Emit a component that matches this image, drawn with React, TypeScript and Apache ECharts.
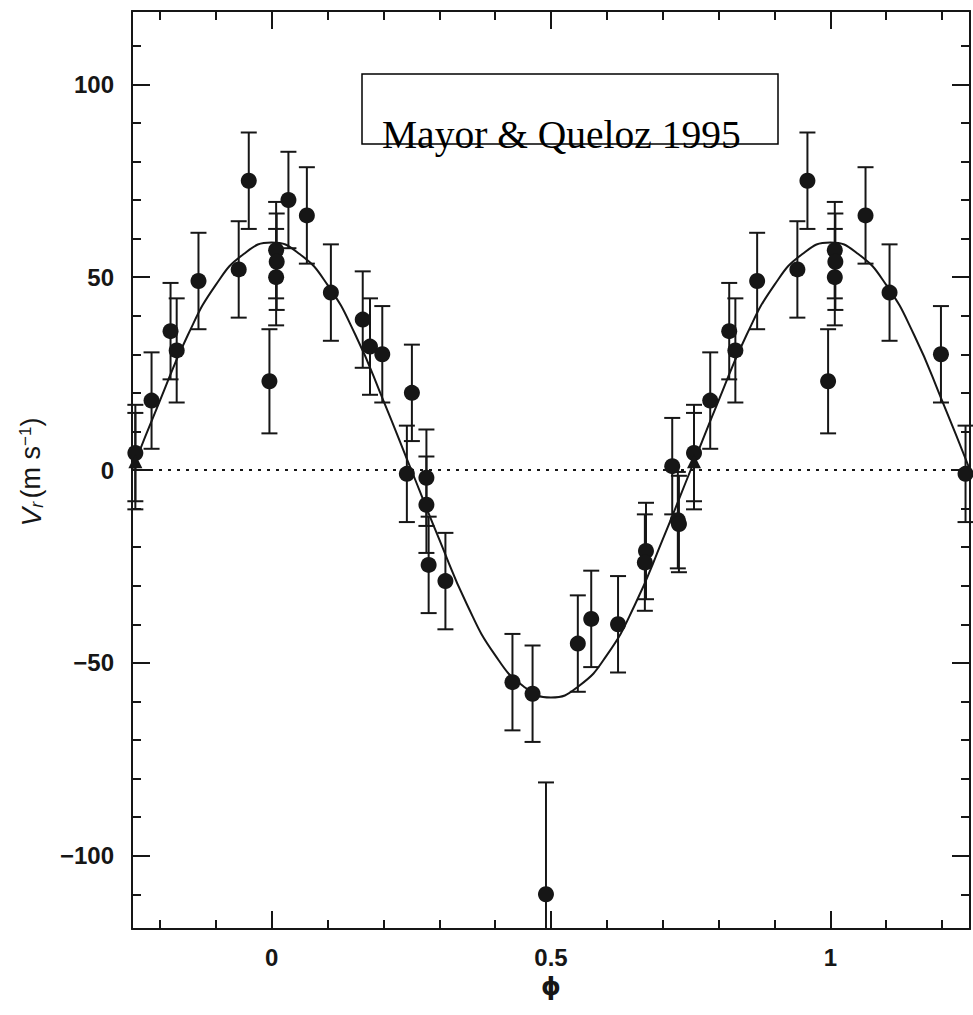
import React, { useEffect, useRef } from "react";
import * as echarts from "echarts";

const X_MIN = -0.25;
const X_MAX = 1.25;
const Y_MIN = -119;
const Y_MAX = 119;

const xMajorTicks = [0, 0.5, 1];
const xMinorTicks = [-0.2, -0.1, 0.1, 0.2, 0.3, 0.4, 0.6, 0.7, 0.8, 0.9, 1.1, 1.2];
const yMajorTicks = [-100, -50, 0, 50, 100];
const yMinorTicks = [-110, -90, -80, -70, -60, -40, -30, -20, -10, 10, 20, 30, 40, 60, 70, 80, 90, 110];

// filled circles: phase, radial velocity (m/s), error (m/s)
const circlePhase = [
  -0.244, -0.215, -0.181, -0.17, -0.131, -0.059, -0.041, -0.004,
  0.008, 0.009, 0.008, 0.03, 0.063, 0.106, 0.163, 0.176, 0.198,
  0.242, 0.251, 0.277, 0.277, 0.281, 0.311,
  0.431, 0.467, 0.491, 0.548, 0.572, 0.62, 0.67, 0.668,
  0.717, 0.727, 0.729, 0.756, 0.785, 0.819, 0.83, 0.869, 0.941, 0.959, 0.996,
  1.008, 1.009, 1.008, 1.063, 1.106, 1.198, 1.242,
];
const circleVel = [
  4.4, 18, 36, 31, 49, 52, 75, 23,
  57, 54, 50, 70, 66, 46, 39, 32, 30,
  -1, 20, -2, -9, -24.6, -28.8,
  -55, -58, -110, -45, -38.6, -40, -21, -24,
  1, -13, -14, 4.4, 18, 36, 31, 49, 52, 75, 23,
  57, 54, 50, 66, 46, 30, -1,
];
const circleErr = [
  12.5, 12.5, 12.5, 13.5, 12.5, 12.5, 12.5, 13.5,
  12.5, 12.5, 12.5, 12.5, 12.5, 12.5, 12.5, 12.5, 12.5,
  12.5, 12.5, 12.5, 12.5, 12.5, 12.5,
  12.5, 12.5, 29, 12.5, 12.5, 12.5, 12.5, 12.5,
  12.5, 12.5, 12.5, 12.5, 12.5, 12.5, 13.5, 12.5, 12.5, 12.5, 13.5,
  12.5, 12.5, 12.5, 12.5, 12.5, 12.5, 12.5,
];

// triangles
const trianglePhase = [-0.244, 0.756];
const triangleVel = [2.3, 2.3];
const triangleErr = [12.5, 12.5];

// fitted orbit curve
const curvePhase = [
  -0.25, -0.2, -0.15, -0.1, -0.05, 0, 0.05, 0.1, 0.15, 0.2, 0.25, 0.3, 0.35, 0.4, 0.45, 0.5,
  0.55, 0.6, 0.65, 0.7, 0.75, 0.8, 0.85, 0.9, 0.95, 1, 1.05, 1.1, 1.15, 1.2, 1.25,
];
const curveVel = [
  0, 18, 35, 48, 56, 59, 56, 48, 35, 18, 0, -18, -35, -48, -56, -59,
  -56, -48, -35, -18, 0, 18, 35, 48, 56, 59, 56, 48, 35, 18, 0,
];

const INK = "#161616";
const LABEL_FONT = "Liberation Sans";

const minus = (v: number) => String(v).replace("-", "\u2212");

function errorRender(params: any, api: any) {
  const x = api.value(0);
  const y = api.value(1);
  const e = api.value(2);
  const hi = y + e;
  const lo = y - e;
  const pHi = api.coord([x, Math.min(hi, Y_MAX)]);
  const pLo = api.coord([x, Math.max(lo, Y_MIN)]);
  const cap = 8;
  const style = { stroke: INK, lineWidth: 2 };
  const children: any[] = [
    { type: "line", shape: { x1: pHi[0], y1: pHi[1], x2: pLo[0], y2: pLo[1] }, style },
  ];
  if (hi <= Y_MAX)
    children.push({ type: "line", shape: { x1: pHi[0] - cap, y1: pHi[1], x2: pHi[0] + cap, y2: pHi[1] }, style });
  if (lo >= Y_MIN)
    children.push({ type: "line", shape: { x1: pLo[0] - cap, y1: pLo[1], x2: pLo[0] + cap, y2: pLo[1] }, style });
  return { type: "group", children };
}

function xAxis(position: "top" | "bottom", major: boolean, withLabels: boolean) {
  return {
    type: "value",
    min: X_MIN,
    max: X_MAX,
    position,
    axisLine: { show: major, onZero: false, lineStyle: { color: INK, width: 2 } },
    axisTick: {
      show: true,
      inside: true,
      length: major ? 18 : 9,
      customValues: major ? xMajorTicks : xMinorTicks,
      lineStyle: { color: INK, width: 2 },
    },
    axisLabel: withLabels
      ? {
          show: true,
          customValues: xMajorTicks,
          formatter: (v: number) => minus(v),
          fontFamily: LABEL_FONT,
          fontWeight: "bold",
          fontSize: 24,
          color: INK,
          margin: 16,
        }
      : { show: false },
    splitLine: { show: false },
    ...(withLabels
      ? {
          name: "\u03d5",
          nameLocation: "middle",
          nameGap: 35,
          nameTextStyle: { fontFamily: "DejaVu Sans", fontWeight: "bold", fontSize: 25, color: INK },
        }
      : {}),
  };
}

function yAxis(position: "left" | "right", major: boolean, withLabels: boolean) {
  return {
    type: "value",
    min: Y_MIN,
    max: Y_MAX,
    position,
    axisLine: { show: major, onZero: false, lineStyle: { color: INK, width: 2 } },
    axisTick: {
      show: true,
      inside: true,
      length: major ? 18 : 9,
      customValues: major ? yMajorTicks : yMinorTicks,
      lineStyle: { color: INK, width: 2 },
    },
    axisLabel: withLabels
      ? {
          show: true,
          customValues: yMajorTicks,
          formatter: (v: number) => minus(v),
          fontFamily: LABEL_FONT,
          fontWeight: "bold",
          fontSize: 24,
          color: INK,
          margin: 18,
        }
      : { show: false },
    splitLine: { show: false },
  };
}

export default function App() {
  const ref = useRef<HTMLDivElement>(null);

  useEffect(() => {
    if (!ref.current) return;
    const chart = echarts.init(ref.current, null, { renderer: "svg" });

    const circleData = circlePhase.map((p, i) => [p, circleVel[i], circleErr[i]]);
    const triData = trianglePhase.map((p, i) => [p, triangleVel[i], triangleErr[i]]);
    const curveData = curvePhase.map((p, i) => [p, curveVel[i]]);

    chart.setOption({
      animation: false,
      backgroundColor: "#ffffff",
      grid: { left: 132, right: 3, top: 11, bottom: 86, containLabel: false },
      xAxis: [
        xAxis("bottom", true, true),
        xAxis("bottom", false, false),
        xAxis("top", true, false),
        xAxis("top", false, false),
      ],
      yAxis: [
        yAxis("left", true, true),
        yAxis("left", false, false),
        yAxis("right", true, false),
        yAxis("right", false, false),
      ],
      series: [
        {
          type: "line",
          data: curveData,
          smooth: true,
          showSymbol: false,
          symbol: "none",
          lineStyle: { color: INK, width: 2 },
          z: 2,
          markLine: {
            silent: true,
            symbol: ["none", "none"],
            label: { show: false },
            lineStyle: { type: [3, 6], color: INK, width: 2 },
            data: [{ yAxis: 0 }],
          },
        },
        {
          type: "custom",
          data: circleData.concat(triData),
          encode: { x: 0, y: 1 },
          renderItem: errorRender,
          z: 3,
        },
        {
          type: "scatter",
          data: circleData.map((d) => [d[0], d[1]]),
          symbol: "circle",
          symbolSize: 16,
          itemStyle: { color: INK, opacity: 1 },
          z: 4,
        },
        {
          type: "scatter",
          data: triData.map((d) => [d[0], d[1]]),
          symbol: "triangle",
          symbolSize: 14,
          itemStyle: { color: INK, opacity: 1 },
          z: 4,
        },
      ],
      graphic: [
        {
          type: "text",
          x: 31,
          y: 472,
          rotation: Math.PI / 2,
          style: {
            text: "{v|V}{r|r} {t|(m s}{s|\u22121}{t|)}",
            align: "center",
            verticalAlign: "middle",
            fill: INK,
            rich: {
              v: { fontFamily: LABEL_FONT, fontStyle: "italic", fontSize: 28, fill: INK },
              r: { fontFamily: LABEL_FONT, fontStyle: "italic", fontSize: 18, fill: INK, verticalAlign: "bottom", padding: [11, 0, 0, 0] },
              t: { fontFamily: LABEL_FONT, fontSize: 27, fill: INK },
              s: { fontFamily: LABEL_FONT, fontSize: 17, fill: INK, verticalAlign: "top", padding: [0, 0, 11, 0] },
            },
          },
        },
        {
          type: "rect",
          shape: { x: 362, y: 74, width: 416, height: 70 },
          style: { fill: "#ffffff", stroke: "#000000", lineWidth: 1.5 },
          z: 100,
        },
        {
          type: "text",
          x: 382,
          y: 135,
          style: {
            text: "Mayor & Queloz 1995",
            fontFamily: "Liberation Serif",
            fontSize: 39.5,
            fill: "#000000",
            verticalAlign: "middle",
            align: "left",
          },
          z: 101,
        },
      ],
    });

    return () => chart.dispose();
  }, []);

  return (
    <div
      ref={ref}
      style={{ position: "fixed", left: 0, top: 0, width: 973, height: 1015, background: "#fff" }}
    />
  );
}
